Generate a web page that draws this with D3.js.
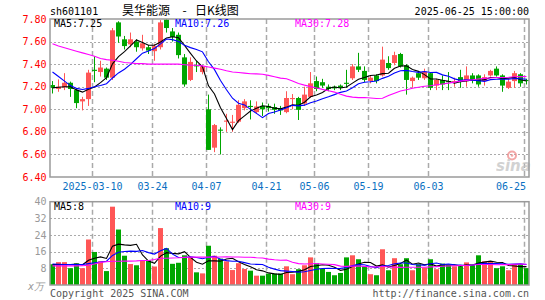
<!DOCTYPE html>
<html>
<head>
<meta charset="utf-8">
<script src="https://cdn.jsdelivr.net/npm/d3@7"></script>
<style>
  body { margin: 0; background: #fff; }
  svg { display: block; }
</style>
</head>
<body>
<div id="chart"></div>
<script>
// daily candles, 2025-02-27 .. 2025-06-25
var dates = [
  "2025-02-27","2025-02-28",
  "2025-03-03","2025-03-04","2025-03-05","2025-03-06","2025-03-07",
  "2025-03-10","2025-03-11","2025-03-12","2025-03-13","2025-03-14",
  "2025-03-17","2025-03-18","2025-03-19","2025-03-20","2025-03-21",
  "2025-03-24","2025-03-25","2025-03-26","2025-03-27","2025-03-28",
  "2025-03-31","2025-04-01","2025-04-02","2025-04-03",
  "2025-04-07","2025-04-08","2025-04-09","2025-04-10","2025-04-11",
  "2025-04-14","2025-04-15","2025-04-16","2025-04-17","2025-04-18",
  "2025-04-21","2025-04-22","2025-04-23","2025-04-24","2025-04-25",
  "2025-04-28","2025-04-29","2025-04-30",
  "2025-05-06","2025-05-07","2025-05-08","2025-05-09",
  "2025-05-12","2025-05-13","2025-05-14","2025-05-15","2025-05-16",
  "2025-05-19","2025-05-20","2025-05-21","2025-05-22","2025-05-23",
  "2025-05-26","2025-05-27","2025-05-28","2025-05-29","2025-05-30",
  "2025-06-03","2025-06-04","2025-06-05","2025-06-06",
  "2025-06-09","2025-06-10","2025-06-11","2025-06-12","2025-06-13",
  "2025-06-16","2025-06-17","2025-06-18","2025-06-19","2025-06-20",
  "2025-06-23","2025-06-24","2025-06-25"
];

var open = [
  7.215, 7.18, 7.195, 7.235, 7.17, 7.07, 7.09, 7.35, 7.33, 7.36,
  7.28, 7.77, 7.62, 7.575, 7.60, 7.54, 7.55, 7.515, 7.55, 7.795,
  7.69, 7.66, 7.46, 7.26, 7.39, 7.33, 7.00, 6.66, 6.82, 6.89,
  6.88, 6.89, 7.01, 7.03, 6.975, 7.03, 7.03, 7.02, 7.01, 6.975,
  7.09, 7.10, 7.05, 7.11, 7.25, 7.24, 7.20, 7.20, 7.21, 7.235,
  7.275, 7.38, 7.34, 7.25, 7.30, 7.30, 7.41, 7.41, 7.49, 7.39,
  7.25, 7.32, 7.275, 7.32, 7.21, 7.26, 7.25, 7.245, 7.285, 7.25,
  7.30, 7.30, 7.25, 7.30, 7.36, 7.30, 7.19, 7.25, 7.31, 7.26
];
var high = [
  7.25, 7.265, 7.32, 7.245, 7.18, 7.11, 7.35, 7.47, 7.43, 7.37,
  7.72, 7.78, 7.65, 7.68, 7.62, 7.66, 7.57, 7.58, 7.79, 7.80,
  7.72, 7.68, 7.49, 7.46, 7.43, 7.39, 7.13, 6.87, 6.84, 6.96,
  6.95, 7.08, 7.09, 7.08, 7.07, 7.06, 7.05, 7.05, 7.03, 7.16,
  7.135, 7.11, 7.20, 7.33, 7.29, 7.27, 7.22, 7.21, 7.22, 7.35,
  7.40, 7.50, 7.38, 7.30, 7.31, 7.555, 7.47, 7.51, 7.50, 7.40,
  7.29, 7.33, 7.36, 7.33, 7.27, 7.30, 7.33, 7.28, 7.35, 7.38,
  7.32, 7.31, 7.31, 7.35, 7.38, 7.31, 7.27, 7.34, 7.32, 7.27
];
var low = [
  7.14, 7.155, 7.17, 7.11, 7.01, 6.99, 7.03, 7.24, 7.29, 7.26,
  7.26, 7.59, 7.53, 7.55, 7.51, 7.52, 7.49, 7.43, 7.53, 7.68,
  7.60, 7.45, 7.20, 7.25, 7.33, 7.31, 6.64, 6.62, 6.60, 6.80,
  6.80, 6.88, 6.99, 6.91, 6.96, 6.94, 6.98, 6.96, 6.95, 6.965,
  7.00, 6.905, 7.03, 7.10, 7.16, 7.19, 7.16, 7.17, 7.17, 7.19,
  7.26, 7.33, 7.24, 7.23, 7.23, 7.29, 7.35, 7.39, 7.37, 7.13,
  7.19, 7.26, 7.26, 7.17, 7.17, 7.17, 7.17, 7.20, 7.19, 7.20,
  7.23, 7.20, 7.21, 7.29, 7.29, 7.155, 7.18, 7.19, 7.20, 7.22
];
var close = [
  7.19, 7.20, 7.235, 7.18, 7.055, 7.09, 7.325, 7.34, 7.37, 7.28,
  7.70, 7.645, 7.56, 7.62, 7.55, 7.585, 7.52, 7.56, 7.77, 7.72,
  7.64, 7.48, 7.22, 7.42, 7.38, 7.38, 6.64, 6.86, 6.81, 6.90,
  6.89, 7.04, 7.07, 7.02, 7.025, 7.00, 7.01, 6.995, 6.99, 7.10,
  7.10, 6.995, 7.13, 7.23, 7.18, 7.21, 7.18, 7.185, 7.19, 7.225,
  7.38, 7.35, 7.26, 7.28, 7.25, 7.44, 7.365, 7.48, 7.38, 7.26,
  7.28, 7.28, 7.335, 7.19, 7.26, 7.22, 7.24, 7.25, 7.25, 7.30,
  7.26, 7.22, 7.285, 7.34, 7.30, 7.21, 7.245, 7.32, 7.23, 7.25
];
// volume, in 10k lots
var volume = [
  9.9, 10.9, 10.9, 8.0, 10.3, 8.0, 21.8, 15.8, 11.3, 6.6,
  37.6, 26.6, 14.0, 10.0, 9.4, 11.8, 11.8, 8.8, 27.3, 17.6,
  10.1, 10.6, 14.2, 13.4, 6.0, 5.5, 18.8, 14.0, 12.6, 11.3,
  7.1, 10.4, 7.6, 6.8, 4.4, 4.4, 5.4, 5.4, 5.4, 8.9,
  5.1, 7.5, 9.4, 13.2, 10.5, 7.8, 6.2, 4.6, 5.7, 13.2,
  14.2, 12.3, 8.9, 5.1, 4.6, 17.1, 7.0, 12.8, 9.9, 12.8,
  7.0, 9.9, 8.3, 12.3, 7.5, 10.2, 9.4, 8.9, 8.9, 10.8,
  9.4, 14.2, 11.3, 11.3, 8.0, 8.9, 7.0, 9.9, 9.9, 8.0
];

var ma5Head = [7.19, 7.195, 7.20, 7.20];
var ma10Head = [7.33, 7.29, 7.25, 7.21, 7.185, 7.175, 7.185, 7.20, 7.21];
var ma30Head = [7.58, 7.56, 7.545, 7.53, 7.515, 7.50, 7.485, 7.47, 7.45, 7.44,
                7.435, 7.425, 7.415, 7.41, 7.405, 7.405, 7.40, 7.40, 7.40, 7.40,
                7.40, 7.40, 7.395, 7.39, 7.39, 7.385, 7.375, 7.365, 7.355];
var volMa5Head = [9.7, 9.7, 9.8, 9.8];
var volMa10Head = [10.0, 9.9, 9.8, 9.7, 9.7, 9.8, 10.2, 10.6, 11.0];
var volMa30Head = [9.1, 9.1, 9.1, 9.1, 9.1, 9.2, 9.4, 10.0, 10.8, 11.1,
                   11.3, 11.3, 11.4, 11.4, 11.5, 11.7, 11.7, 12.2, 12.8, 12.8,
                   12.9, 13.0, 13.2, 13.3, 13.3, 13.3, 13.3, 13.3, 13.4];

var tickDates = ["2025-03-10","2025-03-24","2025-04-07","2025-04-21",
                 "2025-05-06","2025-05-19","2025-06-03","2025-06-25"];
var tickLabels = ["2025-03-10","03-24","04-07","04-21","05-06","05-19","06-03","06-25"];
var priceTicks = [7.80, 7.60, 7.40, 7.20, 7.00, 6.80, 6.60, 6.40];
var volTicks = [40, 32, 24, 16, 8];

var maLabels = ["MA5:7.25", "MA10:7.26", "MA30:7.28"];
var volMaLabels = ["MA5:8", "MA10:9", "MA30:9"];

var width = 545,
    height = 300,
    frameLeft = 50,
    frameRight = 529,
    price = {top: 19, bottom: 177},
    vol = {top: 201.7, bottom: 285},
    upColor = "#ff5656",
    downColor = "#00a600",
    maColors = ["#000000", "#0000ff", "#ff00ff"],
    gridColor = "#aaaaaa",
    mono = "'DejaVu Sans Mono', monospace",
    priceFormat = d3.format(".2f");

var x = d3.scaleBand().domain(dates).range([49, 529]),
    y = d3.scaleLinear().domain([6.4, 7.8]).range([price.bottom, price.top]),
    yv = d3.scaleLinear().domain([0, 40]).range([vol.bottom - 0.2, vol.top]);

function movingAvg(values, n, head) {
    return values.map(function(v, i) {
        if (i < n - 1) return head[i];
        return d3.mean(values.slice(i - n + 1, i + 1));
    });
}

function isUp(i) { return close[i] >= open[i]; }

var svg = d3.select("#chart").append("svg")
    .attr("width", width)
    .attr("height", height)
    .style("font-family", mono);

// grid
function drawGrid(panel, scale, ticks) {
    var g = svg.append("g").attr("class", "grid");
    g.selectAll("line.h")
        .data(ticks)
        .enter().append("line")
        .attr("class", "h")
        .attr("x1", frameLeft).attr("x2", frameRight)
        .attr("y1", function(d) { return Math.round(scale(d)) + 0.5; })
        .attr("y2", function(d) { return Math.round(scale(d)) + 0.5; })
        .attr("stroke", gridColor)
        .attr("stroke-width", 1)
        .attr("stroke-dasharray", "2,2");
    g.selectAll("line.v")
        .data(tickDates)
        .enter().append("line")
        .attr("class", "v")
        .attr("x1", function(d) { return x(d) + 1.5; })
        .attr("x2", function(d) { return x(d) + 1.5; })
        .attr("y1", panel.top).attr("y2", panel.bottom)
        .attr("stroke", gridColor)
        .attr("stroke-width", 1.5)
        .attr("stroke-dasharray", "5,3");
}
drawGrid(price, y, priceTicks.slice(1, -1));
drawGrid(vol, yv, volTicks.slice(1));

// sina watermark
var wm = svg.append("g").attr("opacity", 0.75);
wm.append("circle").attr("cx", 512).attr("cy", 155.5).attr("r", 4)
    .attr("fill", "none").attr("stroke", "#ef8a8a").attr("stroke-width", 2);
wm.append("circle").attr("cx", 512).attr("cy", 155.5).attr("r", 1.3).attr("fill", "#ef8a8a");
wm.append("text").attr("x", 496).attr("y", 171)
    .style("font-family", "'DejaVu Sans', sans-serif")
    .style("font-size", "15px").style("font-weight", "bold").style("font-style", "italic")
    .attr("fill", "#c4c4c4").text("sina");

// candles
var candle = svg.append("g").attr("class", "candles")
    .selectAll("g")
    .data(dates)
    .enter().append("g");

candle.append("line")
    .attr("x1", function(d) { return x(d) + 3.5; })
    .attr("x2", function(d) { return x(d) + 3.5; })
    .attr("y1", function(d, i) { return y(high[i]); })
    .attr("y2", function(d, i) { return y(low[i]); })
    .attr("stroke", function(d, i) { return isUp(i) ? upColor : downColor; })
    .attr("stroke-width", 1);

candle.append("rect")
    .attr("x", function(d) { return x(d) + 1; })
    .attr("width", 5)
    .attr("y", function(d, i) { return y(Math.max(open[i], close[i])); })
    .attr("height", function(d, i) { return Math.max(1, Math.abs(y(open[i]) - y(close[i]))); })
    .attr("fill", function(d, i) { return isUp(i) ? upColor : downColor; });

// volume bars
svg.append("g").attr("class", "bars")
    .selectAll("rect")
    .data(dates)
    .enter().append("rect")
    .attr("x", function(d) { return x(d) + 1; })
    .attr("width", 5)
    .attr("y", function(d, i) { return yv(volume[i]); })
    .attr("height", function(d, i) { return vol.bottom - yv(volume[i]); })
    .attr("fill", function(d, i) { return isUp(i) ? upColor : downColor; });

// moving averages
function drawLines(scale, series) {
    var line = d3.line()
        .x(function(d, i) { return x(dates[i]) + 3.5; })
        .y(function(d) { return scale(d); });
    svg.append("g").attr("class", "ma")
        .selectAll("path")
        .data(series)
        .enter().append("path")
        .attr("d", line)
        .attr("fill", "none")
        .attr("stroke", function(d, i) { return maColors[i]; })
        .attr("stroke-width", 1.1);
}
drawLines(y, [movingAvg(close, 5, ma5Head),
              movingAvg(close, 10, ma10Head),
              movingAvg(close, 30, ma30Head)]);
drawLines(yv, [movingAvg(volume, 5, volMa5Head),
               movingAvg(volume, 10, volMa10Head),
               movingAvg(volume, 30, volMa30Head)]);

// frames
[price, vol].forEach(function(p) {
    svg.append("rect")
        .attr("x", frameLeft).attr("y", p.top)
        .attr("width", frameRight - frameLeft).attr("height", p.bottom - p.top)
        .attr("fill", "none")
        .attr("stroke", "#9a9a9a")
        .attr("stroke-width", 1.5);
});

// axis labels
svg.append("g").selectAll("text")
    .data(priceTicks)
    .enter().append("text")
    .attr("x", 46.5)
    .attr("y", function(d) { return y(d); })
    .attr("dy", "0.36em")
    .attr("text-anchor", "end")
    .attr("fill", "#ff0000")
    .style("font-size", "10px")
    .text(function(d) { return priceFormat(d); });

svg.append("g").selectAll("text")
    .data(volTicks)
    .enter().append("text")
    .attr("x", 46.5)
    .attr("y", function(d) { return yv(d); })
    .attr("dy", "0.36em")
    .attr("text-anchor", "end")
    .attr("fill", "#999999")
    .style("font-size", "10px")
    .text(function(d) { return d; });

svg.append("text")
    .attr("x", 28).attr("y", 289.5)
    .attr("fill", "#999999")
    .style("font-size", "10px").style("font-style", "italic")
    .text("x万");

svg.append("g").selectAll("text")
    .data(tickDates)
    .enter().append("text")
    .attr("x", function(d, i) {
        return i === tickDates.length - 1 ? 526 : x(d) + 1.5;
    })
    .attr("y", 189.5)
    .attr("text-anchor", function(d, i) { return i === tickDates.length - 1 ? "end" : "middle"; })
    .attr("fill", "#0a70c2")
    .style("font-size", "10px")
    .text(function(d, i) { return tickLabels[i]; });

// legends
var legendX = [54, 175, 295];
svg.append("g").selectAll("text")
    .data(maLabels)
    .enter().append("text")
    .attr("x", function(d, i) { return legendX[i]; })
    .attr("y", 27)
    .attr("fill", function(d, i) { return maColors[i]; })
    .style("font-size", "10px")
    .text(function(d) { return d; });

svg.append("g").selectAll("text")
    .data(volMaLabels)
    .enter().append("text")
    .attr("x", function(d, i) { return legendX[i]; })
    .attr("y", 209.5)
    .attr("fill", function(d, i) { return maColors[i]; })
    .style("font-size", "10px")
    .text(function(d) { return d; });

// header
svg.append("text").attr("x", 50).attr("y", 15)
    .style("font-size", "10px").attr("fill", "#000").text("sh601101");
var cjk = "'Noto Sans CJK SC', sans-serif";
svg.append("text").attr("x", 122).attr("y", 15)
    .style("font-family", cjk).style("font-size", "12px").attr("fill", "#000").text("昊华能源");
svg.append("text").attr("x", 184.5).attr("y", 15).attr("text-anchor", "middle")
    .style("font-family", cjk).style("font-size", "12px").attr("fill", "#000").text("-");
svg.append("text").attr("x", 195).attr("y", 15)
    .style("font-family", cjk).style("font-size", "12px").attr("fill", "#000").text("日K线图");
svg.append("text").attr("x", 529).attr("y", 15).attr("text-anchor", "end")
    .style("font-size", "10px").attr("fill", "#000").text("2025-06-25 15:00:00");

// footer
svg.append("text").attr("x", 50).attr("y", 296.5)
    .style("font-size", "10px").attr("fill", "#555").text("Copyright 2025 SINA.COM");
svg.append("text").attr("x", 529).attr("y", 296.5).attr("text-anchor", "end")
    .style("font-size", "10px").attr("fill", "#555").text("http://finance.sina.com.cn");
</script>
</body>
</html>
